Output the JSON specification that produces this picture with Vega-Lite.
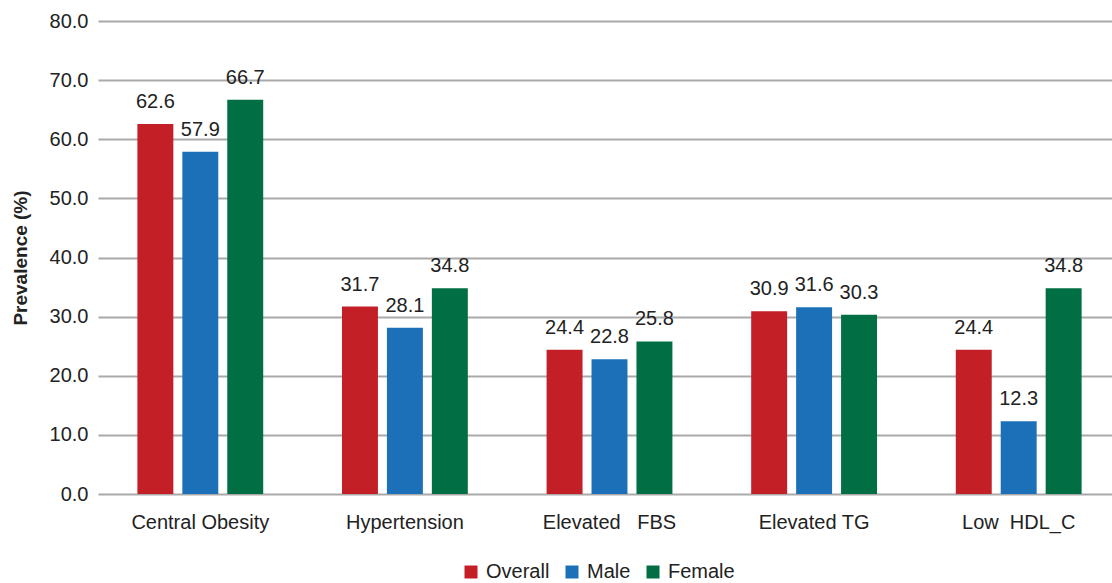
{
  "$schema": "https://vega.github.io/schema/vega-lite/v6.json",
  "width": 1023,
  "height": 473,
  "autosize": "none",
  "padding": {"left": 98, "top": 21, "right": 0, "bottom": 89},
  "config": {
    "font": "Liberation Sans",
    "view": {"stroke": null}
  },
  "data": {
    "values": [
      {"category": "Central Obesity", "group": "Overall", "value": 62.6},
      {"category": "Central Obesity", "group": "Male", "value": 57.9},
      {"category": "Central Obesity", "group": "Female", "value": 66.7},
      {"category": "Hypertension", "group": "Overall", "value": 31.7},
      {"category": "Hypertension", "group": "Male", "value": 28.1},
      {"category": "Hypertension", "group": "Female", "value": 34.8},
      {"category": "Elevated\u00a0\u00a0\u00a0FBS", "group": "Overall", "value": 24.4},
      {"category": "Elevated\u00a0\u00a0\u00a0FBS", "group": "Male", "value": 22.8},
      {"category": "Elevated\u00a0\u00a0\u00a0FBS", "group": "Female", "value": 25.8},
      {"category": "Elevated TG", "group": "Overall", "value": 30.9},
      {"category": "Elevated TG", "group": "Male", "value": 31.6},
      {"category": "Elevated TG", "group": "Female", "value": 30.3},
      {"category": "Low\u00a0\u00a0HDL_C", "group": "Overall", "value": 24.4},
      {"category": "Low\u00a0\u00a0HDL_C", "group": "Male", "value": 12.3},
      {"category": "Low\u00a0\u00a0HDL_C", "group": "Female", "value": 34.8}
    ]
  },
  "encoding": {
    "x": {
      "field": "category",
      "type": "nominal",
      "sort": null,
      "scale": {"paddingInner": 0.385, "paddingOuter": 0.1925},
      "axis": {
        "title": null,
        "labelAngle": 0,
        "ticks": false,
        "domain": false,
        "labelFontSize": 20,
        "labelColor": "#222222",
        "labelPadding": 18
      }
    },
    "xOffset": {
      "field": "group",
      "type": "nominal",
      "sort": ["Overall", "Male", "Female"],
      "scale": {"paddingInner": 0.2, "paddingOuter": 0}
    },
    "y": {
      "field": "value",
      "type": "quantitative",
      "scale": {"domain": [0, 80]},
      "axis": {
        "title": "Prevalence (%)",
        "titleFontSize": 19,
        "titleFontWeight": "bold",
        "titleColor": "#222222",
        "titlePadding": 19,
        "format": ".1f",
        "values": [0, 10, 20, 30, 40, 50, 60, 70, 80],
        "ticks": false,
        "domain": false,
        "labelFontSize": 20,
        "labelColor": "#222222",
        "labelPadding": 10,
        "gridColor": "#A9A9A9",
        "gridWidth": 2
      }
    }
  },
  "layer": [
    {
      "mark": {"type": "bar"},
      "encoding": {
        "color": {
          "field": "group",
          "type": "nominal",
          "sort": ["Overall", "Male", "Female"],
          "scale": {"domain": ["Overall", "Male", "Female"], "range": ["#C21F27", "#1C70B8", "#016F43"]},
          "legend": {
            "title": null,
            "orient": "none",
            "direction": "horizontal",
            "legendX": 363,
            "legendY": 541,
            "symbolType": "square",
            "symbolSize": 169,
            "symbolStrokeWidth": 0,
            "symbolOpacity": 1,
            "labelFontSize": 20,
            "labelColor": "#222222",
            "labelOffset": 5,
            "columnPadding": 12
          }
        }
      }
    },
    {
      "mark": {"type": "text", "baseline": "alphabetic", "dy": -16, "fontSize": 20, "color": "#222222"},
      "encoding": {
        "text": {"field": "value", "type": "quantitative", "format": ".1f"}
      }
    }
  ]
}
